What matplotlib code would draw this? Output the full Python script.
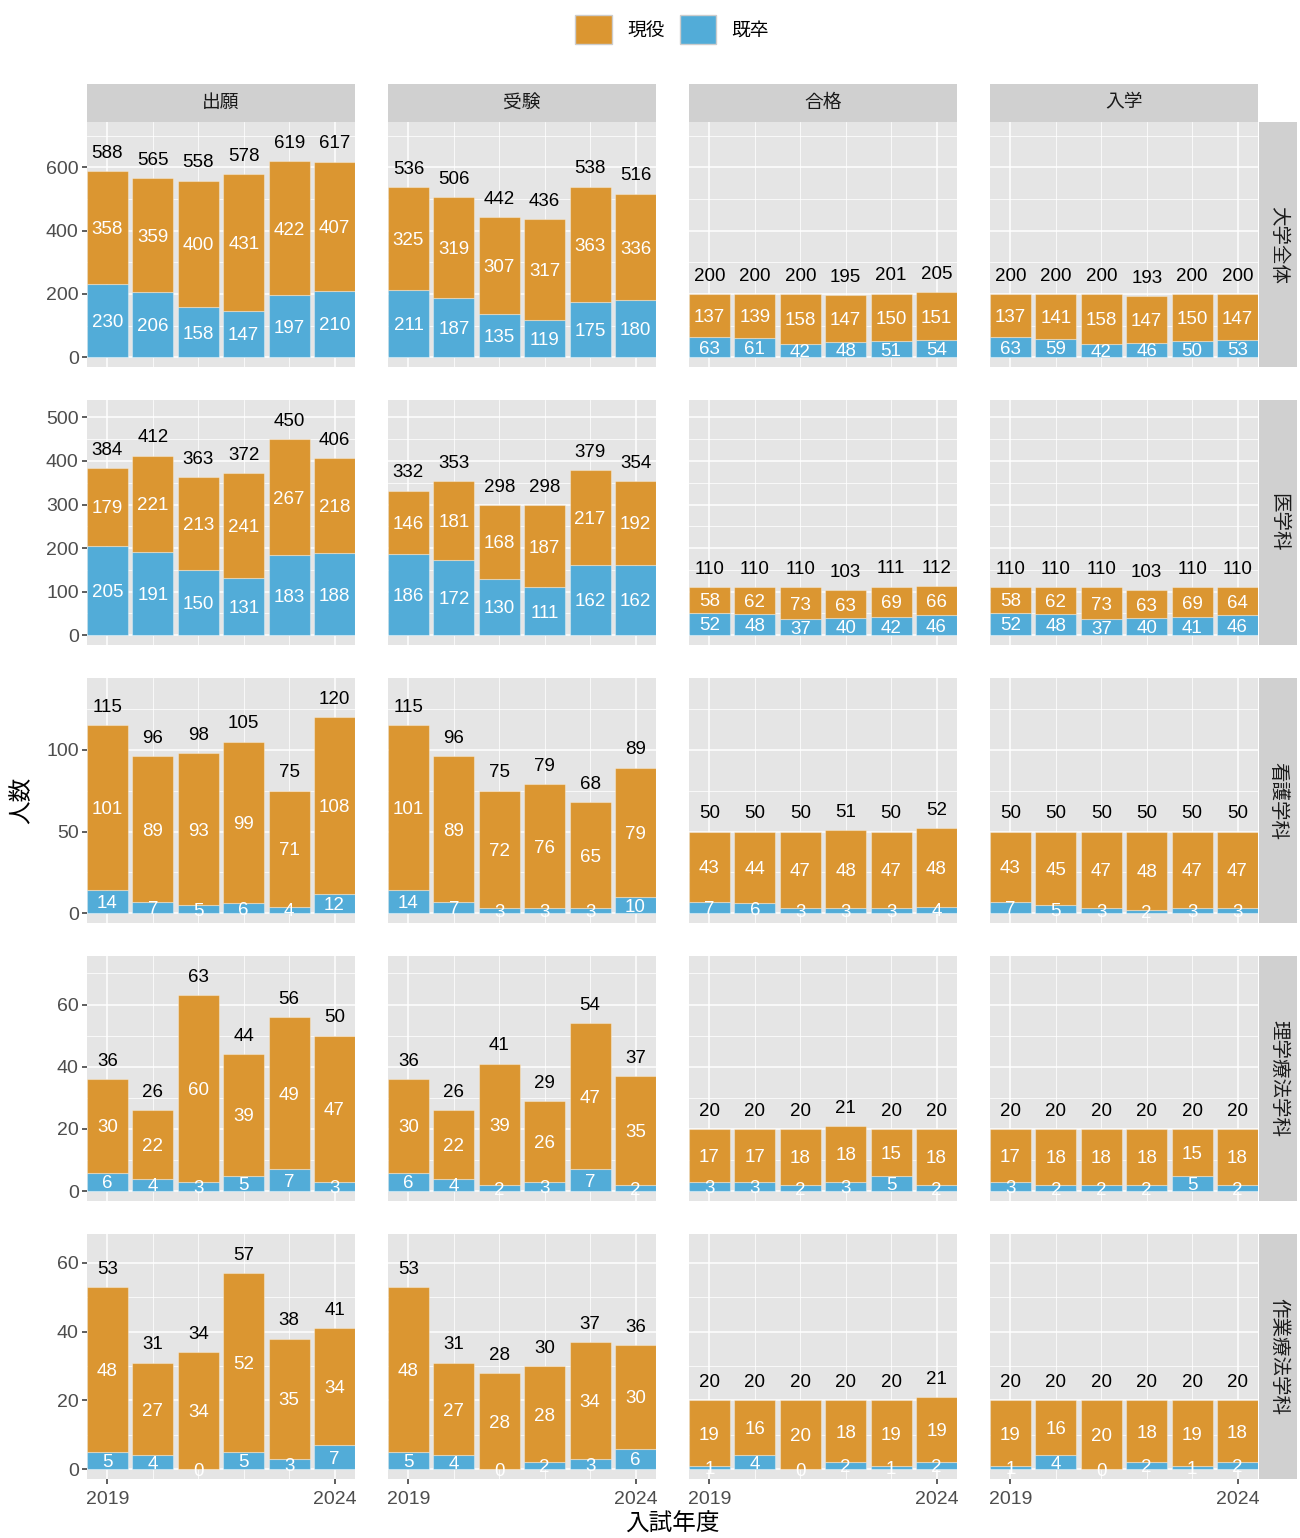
import matplotlib.pyplot as plt
from matplotlib.patches import Rectangle, Patch
from matplotlib.ticker import MultipleLocator, FixedLocator
import numpy as np

plt.rcParams['font.family'] = ['Liberation Sans', 'Noto Sans CJK JP']

years = [2019, 2020, 2021, 2022, 2023, 2024]
stages = ['出願', '受験', '合格', '入学']
depts = ['大学全体', '医学科', '看護学科', '理学療法学科', '作業療法学科']

# 現役 / 既卒 counts, one list per stage (出願, 受験, 合格, 入学)
zentai_gen = [[358, 359, 400, 431, 422, 407], [325, 319, 307, 317, 363, 336],
              [137, 139, 158, 147, 150, 151], [137, 141, 158, 147, 150, 147]]
zentai_kisotsu = [[230, 206, 158, 147, 197, 210], [211, 187, 135, 119, 175, 180],
                  [63, 61, 42, 48, 51, 54], [63, 59, 42, 46, 50, 53]]

igaku_gen = [[179, 221, 213, 241, 267, 218], [146, 181, 168, 187, 217, 192],
             [58, 62, 73, 63, 69, 66], [58, 62, 73, 63, 69, 64]]
igaku_kisotsu = [[205, 191, 150, 131, 183, 188], [186, 172, 130, 111, 162, 162],
                 [52, 48, 37, 40, 42, 46], [52, 48, 37, 40, 41, 46]]

kango_gen = [[101, 89, 93, 99, 71, 108], [101, 89, 72, 76, 65, 79],
             [43, 44, 47, 48, 47, 48], [43, 45, 47, 48, 47, 47]]
kango_kisotsu = [[14, 7, 5, 6, 4, 12], [14, 7, 3, 3, 3, 10],
                 [7, 6, 3, 3, 3, 4], [7, 5, 3, 2, 3, 3]]

rigaku_gen = [[30, 22, 60, 39, 49, 47], [30, 22, 39, 26, 47, 35],
              [17, 17, 18, 18, 15, 18], [17, 18, 18, 18, 15, 18]]
rigaku_kisotsu = [[6, 4, 3, 5, 7, 3], [6, 4, 2, 3, 7, 2],
                  [3, 3, 2, 3, 5, 2], [3, 2, 2, 2, 5, 2]]

sagyo_gen = [[48, 27, 34, 52, 35, 34], [48, 27, 28, 28, 34, 30],
             [19, 16, 20, 18, 19, 19], [19, 16, 20, 18, 19, 18]]
sagyo_kisotsu = [[5, 4, 0, 5, 3, 7], [5, 4, 0, 2, 3, 6],
                 [1, 4, 0, 2, 1, 2], [1, 4, 0, 2, 1, 2]]

gen_all = [zentai_gen, igaku_gen, kango_gen, rigaku_gen, sagyo_gen]
kisotsu_all = [zentai_kisotsu, igaku_kisotsu, kango_kisotsu, rigaku_kisotsu, sagyo_kisotsu]
ystep = [200, 100, 50, 20, 20]

orange = '#DB9631'
blue = '#52ACD8'
panel_bg = '#E5E5E5'
strip_bg = '#D0D0D0'
fs = 13.5

fig, axes = plt.subplots(5, 4, figsize=(13, 15.38), dpi=100)
plt.subplots_adjust(left=87/1300, right=1258/1300, top=1-122/1538, bottom=1-1479/1538,
                    wspace=33/268, hspace=33/245)

for r, dept in enumerate(depts):
    gens = gen_all[r]
    sotsus = kisotsu_all[r]
    top = max(max(np.add(g, s)) for g, s in zip(gens, sotsus))
    for c, stage in enumerate(stages):
        ax = axes[r, c]
        g = np.array(gens[c])
        s = np.array(sotsus[c])
        tot = g + s
        ax.set_facecolor(panel_bg)
        ax.bar(years, s, width=0.9, color=blue, edgecolor=(1, 1, 1, 0.35), lw=0.8, zorder=2)
        ax.bar(years, g, width=0.9, bottom=s, color=orange, edgecolor=(1, 1, 1, 0.35), lw=0.8, zorder=2)
        for x, gv, sv, tv in zip(years, g, s, tot):
            ax.text(x, sv / 2, str(sv), color='white', ha='center', va='center_baseline',
                    fontsize=fs, zorder=3)
            ax.text(x, sv + gv / 2, str(gv), color='white', ha='center', va='center_baseline',
                    fontsize=fs, zorder=3)
            ax.annotate(str(tv), (x, tv), xytext=(0, 14.3), textcoords='offset points',
                        ha='center', va='center_baseline', fontsize=fs, color='black', zorder=3)
        ax.set_xlim(2018.55, 2024.45)
        ax.set_ylim(-0.05 * top, 1.2 * top)
        ax.xaxis.set_major_locator(FixedLocator([2019, 2024]))
        ax.xaxis.set_minor_locator(FixedLocator(years[1:-1]))
        ax.yaxis.set_major_locator(MultipleLocator(ystep[r]))
        ax.yaxis.set_minor_locator(MultipleLocator(ystep[r] / 2))
        ax.grid(which='major', color='white', lw=1.1)
        ax.grid(which='minor', color='white', lw=0.55)
        ax.set_axisbelow(True)
        for sp in ax.spines.values():
            sp.set_visible(False)
        ax.tick_params(which='minor', length=0)
        ax.tick_params(which='major', length=3.5, width=1.1, color='#333333',
                       labelcolor='#4D4D4D', labelsize=14, pad=2.5)
        ax.tick_params(axis='x', which='major', pad=5)
        if c > 0:
            ax.tick_params(axis='y', which='major', left=False, labelleft=False)
        if r < 4:
            ax.tick_params(axis='x', which='major', bottom=False, labelbottom=False)

# facet strips
sh = 38 / 245
for c, stage in enumerate(stages):
    ax = axes[0, c]
    ax.add_patch(Rectangle((0, 1), 1, sh, transform=ax.transAxes, facecolor=strip_bg,
                           edgecolor='none', clip_on=False))
    ax.text(0.5, 1 + sh / 2, stage, transform=ax.transAxes, ha='center', va='center',
            fontsize=fs, color='#1A1A1A')
sw = 38 / 268
for r, dept in enumerate(depts):
    ax = axes[r, 3]
    ax.add_patch(Rectangle((1.004, 0), sw, 1, transform=ax.transAxes, facecolor=strip_bg,
                           edgecolor='none', clip_on=False))
    ax.text(1.004 + sw / 2, 0.5, dept, transform=ax.transAxes, ha='center', va='center',
            rotation=-90, fontsize=14, color='#1A1A1A')

fig.text(22/1300, 1-800/1538, '人数', rotation=90, ha='center', va='center', fontsize=17)
fig.text(672/1300, 1-1525/1538, '入試年度', ha='center', va='center', fontsize=17)

handles = [Patch(facecolor=orange, edgecolor='#CCCCCC', label='現役'),
           Patch(facecolor=blue, edgecolor='#CCCCCC', label='既卒')]
fig.legend(handles=handles, loc='upper center', bbox_to_anchor=(672/1300, 1-6/1538), ncol=2,
           frameon=False, fontsize=fs, handlelength=1.95, handleheight=1.95,
           handletextpad=0.8, columnspacing=0.8, borderpad=0)

fig.savefig('out.png', dpi=100)
